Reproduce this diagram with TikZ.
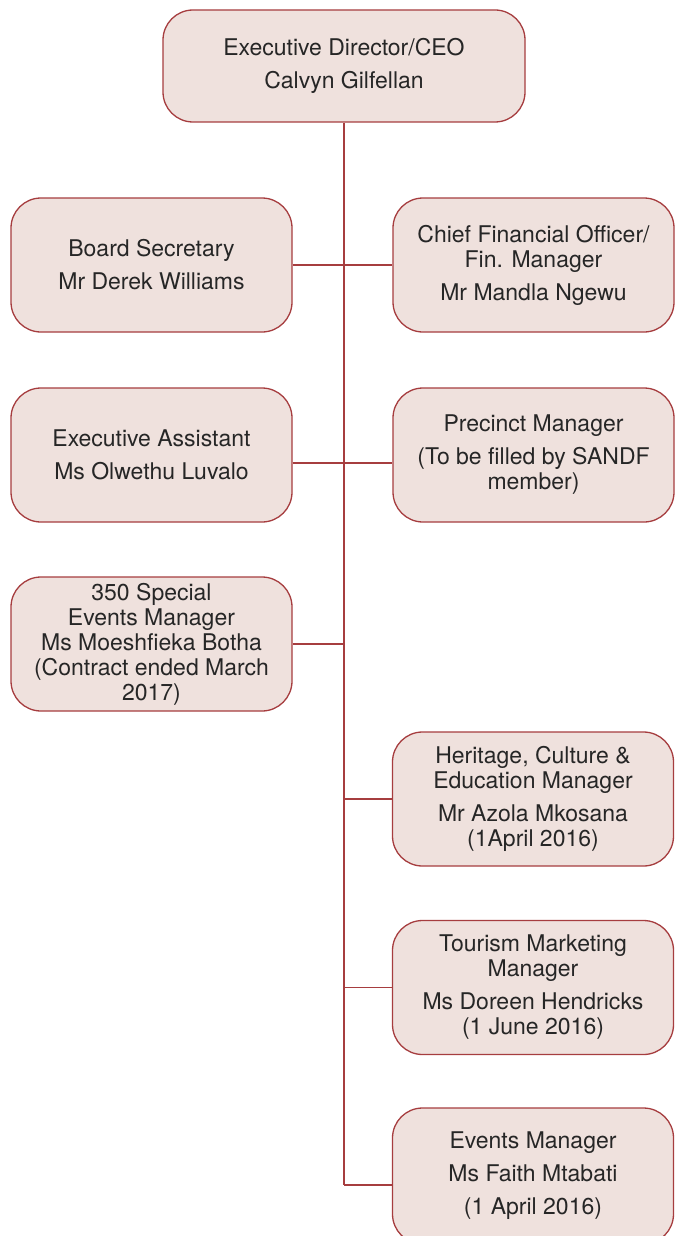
\documentclass[tikz,border=0pt]{standalone}
\usepackage{fontspec}
\setmainfont{TeX Gyre Heros}
\usetikzlibrary{positioning}

\definecolor{boxfill}{HTML}{EFE1DD}
\definecolor{boxline}{HTML}{A63D3F}

\tikzset{
  post/.style={draw=boxline, fill=boxfill, line width=1.3pt, rounded corners=30pt,
    minimum width=281pt, minimum height=134pt, align=center, text=black!85,
    font=\fontsize{23}{25}\selectfont},
  link/.style={draw=boxline, line width=1.3pt}
}

\begin{document}
\begin{tikzpicture}[x=1pt, y=-1pt]
\useasboundingbox (0,0) rectangle (683,1236);

% head of the chart
\path (344,66) node[post, minimum width=362pt, minimum height=112pt] (ceo)
  {Executive Director/CEO\\[8pt]Calvyn Gilfellan};

% left column
\path (151.5,265) node[post] (board) {Board Secretary\\[8pt]Mr Derek Williams};
\path (151.5,455) node[post] (assist) {Executive Assistant\\[8pt]Ms Olwethu Luvalo};
\path (151.5,644) node[post] (special)
  {350 Special\\Events Manager\\Ms Moeshfieka Botha\\(Contract ended March\\2017)};

% right column
\path (533.5,265) node[post] (cfo)
  {Chief Financial Officer/\\Fin. Manager\\[8pt]Mr Mandla Ngewu};
\path (533.5,455) node[post] (precinct)
  {Precinct Manager\\[8pt](To be filled by SANDF\\member)};
\path (533,799) node[post] (heritage)
  {Heritage, Culture \&\\Education Manager\\[8pt]Mr Azola Mkosana\\(1April 2016)};
\path (533,987.5) node[post] (tourism)
  {Tourism Marketing\\Manager\\[8pt]Ms Doreen Hendricks\\(1 June 2016)};
\path (533,1176) node[post, minimum height=136pt] (events)
  {Events Manager\\[8pt]Ms Faith Mtabati\\[8pt](1 April 2016)};

% spine and branches
\draw[link] (ceo.south) -- ([yshift=-9pt]ceo.south |- events.west);
\draw[link] (board.east) -- (cfo.west);
\draw[link] ([yshift=-8pt]assist.east) -- ([yshift=-8pt]assist.east -| precinct.west);
\draw[link] (special.east) -- (special.east -| ceo.south);
\draw[link] (ceo.south |- heritage.west) -- (heritage.west);
\draw[link] (ceo.south |- tourism.west) -- (tourism.west);
\draw[link] ([yshift=-9pt]ceo.south |- events.west) -- ([yshift=-9pt]events.west);
\end{tikzpicture}
\end{document}
